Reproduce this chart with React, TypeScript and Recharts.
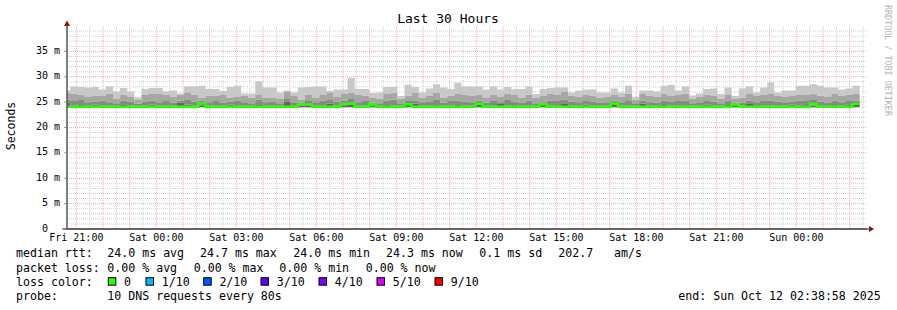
import React from "react";
import { ComposedChart, Area, Line, XAxis, YAxis, CartesianGrid } from "recharts";

// 30 hour smokeping graph, one smoke bar per 960s consolidation step
const STEP_H = 960 / 3600;
const FIRST_H = 0.124;

// top of the light smoke (max ping), ms
const HIGH = [
  27.3, 28.1, 28.0, 27.9, 28.0, 27.5, 28.1, 27.1, 27.8, 27.1,
  25.9, 27.6, 27.8, 27.8, 27.1, 27.3, 26.7, 28.1, 28.1, 28.25,
  27.6, 27.6, 27.2, 28.0, 28.25, 26.7, 26.7, 29.1, 27.9, 27.9,
  26.9, 27.3, 26.9, 27.9, 28.0, 28.1, 28.1, 27.2, 27.5, 27.5,
  29.8, 27.6, 27.6, 26.8, 26.9, 28.0, 28.0, 26.2, 28.4, 28.0,
  26.9, 27.7, 28.5, 27.9, 27.6, 28.8, 28.1, 28.1, 28.1, 27.5,
  28.1, 27.5, 28.0, 27.6, 27.6, 28.1, 26.6, 27.6, 27.8, 27.9,
  27.9, 26.9, 27.3, 27.5, 27.5, 26.9, 26.9, 27.7, 26.9, 28.25,
  26.0, 27.3, 27.3, 27.1, 28.25, 28.4, 27.3, 28.1, 26.3, 26.7,
  27.6, 27.7, 26.6, 27.9, 26.2, 27.7, 28.1, 26.9, 27.9, 28.9,
  26.9, 27.3, 27.3, 28.25, 28.25, 28.5, 28.25, 27.9, 27.9, 27.5,
  27.7, 28.25,
];

// top of the medium grey smoke
const MID = [
  26.8, 26.7, 26.5, 26.1, 26.3, 26.2, 26.6, 25.6, 26.5, 26.1,
  25.4, 26.5, 26.6, 26.6, 26.5, 26.0, 26.5, 26.8, 26.5, 25.8,
  26.3, 26.3, 26.4, 25.8, 26.0, 26.3, 25.8, 26.4, 25.8, 25.8,
  25.6, 27.0, 26.2, 25.5, 26.4, 25.8, 26.4, 26.8, 26.0, 26.6,
  26.9, 26.4, 26.3, 25.9, 25.7, 26.6, 26.9, 25.7, 26.2, 26.8,
  25.9, 26.2, 26.9, 25.8, 26.3, 26.6, 26.5, 26.2, 26.4, 25.9,
  26.5, 26.1, 26.6, 26.4, 25.9, 26.5, 25.8, 26.2, 26.6, 26.4,
  27.0, 26.3, 26.0, 26.4, 26.2, 25.9, 26.1, 26.4, 26.0, 26.7,
  25.5, 26.6, 26.2, 26.0, 26.7, 26.2, 26.4, 26.6, 25.7, 26.0,
  26.5, 26.3, 25.7, 26.4, 25.6, 25.9, 26.6, 26.2, 26.5, 26.6,
  26.3, 26.1, 26.2, 26.4, 26.5, 26.7, 26.3, 26.0, 26.6, 26.2,
  26.5, 26.6,
];

// top of the dark grey smoke
const DARK = [
  25.5, 25.2, 25.4, 25.0, 25.1, 25.3, 25.0, 24.8, 25.3, 25.1,
  24.7, 25.1, 25.3, 25.0, 25.2, 24.9, 25.3, 25.4, 25.1, 25.3,
  25.0, 25.2, 24.9, 25.1, 25.3, 25.0, 24.8, 25.5, 25.0, 25.1,
  24.8, 25.6, 25.0, 24.9, 25.2, 25.0, 25.3, 25.4, 25.1, 25.3,
  25.6, 25.0, 25.2, 24.9, 24.8, 25.3, 25.5, 24.8, 25.2, 25.3,
  25.0, 25.1, 25.4, 24.9, 25.2, 25.3, 25.1, 25.0, 25.3, 24.9,
  25.2, 25.0, 25.4, 25.1, 24.9, 25.3, 24.8, 25.0, 25.3, 25.2,
  25.5, 25.1, 25.0, 25.2, 25.1, 24.9, 25.0, 25.3, 25.0, 25.2,
  24.8, 25.3, 25.0, 24.9, 25.3, 25.1, 25.2, 25.3, 24.8, 25.0,
  25.2, 25.1, 24.8, 25.3, 24.9, 24.9, 25.3, 25.0, 25.2, 25.3,
  25.1, 25.0, 25.1, 25.3, 25.2, 25.4, 25.1, 24.9, 25.3, 25.0,
  25.2, 25.3,
];

// top of the darkest core
const CORE = [
  24.9, 24.3, 24.6, 24.3, 24.5, 24.3, 24.3, 24.3, 24.6, 24.3,
  24.3, 24.3, 24.5, 24.3, 24.3, 24.3, 24.9, 24.5, 24.3, 24.4,
  24.3, 24.3, 24.3, 24.5, 24.3, 24.3, 24.3, 24.6, 24.3, 24.3,
  24.3, 25.1, 24.3, 24.3, 24.6, 24.3, 24.3, 24.7, 24.3, 24.4,
  24.9, 24.3, 24.3, 24.3, 24.3, 24.6, 24.3, 24.3, 24.5, 24.7,
  24.3, 24.3, 24.4, 24.3, 24.3, 24.6, 24.3, 24.3, 24.5, 24.3,
  24.3, 24.8, 24.3, 24.4, 24.3, 24.3, 24.3, 24.6, 24.3, 24.4,
  24.8, 24.3, 24.3, 24.5, 24.3, 24.3, 24.3, 24.6, 24.3, 24.3,
  24.3, 24.7, 24.3, 24.3, 24.6, 24.3, 24.3, 24.4, 24.3, 24.3,
  24.5, 24.3, 24.3, 24.6, 24.3, 24.3, 24.8, 24.4, 24.3, 24.3,
  24.3, 24.3, 24.5, 24.3, 24.6, 24.3, 24.3, 24.3, 24.4, 24.3,
  24.5, 24.7,
];

// bottom of the smoke (min ping)
const LOW = [
  23.9, 23.9, 24.0, 23.9, 23.9, 24.0, 23.9, 23.9, 23.9, 24.0,
  23.9, 23.9, 24.0, 23.9, 23.9, 23.9, 24.0, 23.9, 23.9, 24.0,
  23.9, 23.9, 23.9, 24.0, 23.9, 23.9, 24.0, 23.9, 23.9, 23.9,
  24.0, 23.9, 23.9, 24.0, 24.0, 23.9, 23.9, 24.0, 23.9, 24.0,
  24.0, 23.9, 23.9, 24.0, 23.9, 23.9, 23.9, 24.0, 24.0, 23.9,
  23.9, 24.0, 23.9, 23.9, 24.0, 23.9, 23.9, 23.9, 24.0, 23.9,
  23.9, 24.0, 23.9, 23.9, 23.9, 24.0, 23.9, 24.0, 23.9, 23.9,
  24.0, 23.9, 23.9, 23.9, 24.0, 23.9, 23.9, 24.0, 23.9, 23.9,
  24.0, 23.9, 23.9, 24.0, 23.9, 23.9, 23.9, 24.0, 23.9, 23.9,
  24.0, 23.9, 23.9, 23.9, 24.0, 23.9, 24.0, 23.9, 23.9, 23.9,
  24.0, 23.9, 23.9, 24.0, 23.9, 24.0, 23.9, 23.9, 24.0, 23.9,
  23.9, 24.0,
];

// median rtt, coloured by loss (all 0 here)
const MEDIAN = [
  24.1, 24.1, 24.1, 24.1, 24.1, 24.1, 24.1, 24.1, 24.1, 24.1,
  24.1, 24.1, 24.1, 24.1, 24.1, 24.1, 24.1, 24.1, 24.1, 24.8,
  24.1, 24.1, 24.1, 24.1, 24.1, 24.1, 24.1, 24.1, 24.1, 24.1,
  24.1, 24.1, 24.1, 24.55, 24.55, 24.1, 24.1, 24.1, 24.1, 24.7,
  24.7, 24.1, 24.1, 24.6, 24.1, 24.1, 24.1, 24.1, 24.6, 24.1,
  24.1, 24.1, 24.1, 24.1, 24.1, 24.1, 24.1, 24.1, 24.7, 24.1,
  24.1, 24.1, 24.1, 24.1, 24.1, 24.1, 24.1, 24.6, 24.1, 24.1,
  24.1, 24.1, 24.1, 24.1, 24.1, 24.1, 24.1, 24.8, 24.1, 24.1,
  24.1, 24.1, 24.1, 24.1, 24.1, 24.1, 24.1, 24.1, 24.1, 24.1,
  24.1, 24.1, 24.1, 24.1, 24.6, 24.1, 24.1, 24.1, 24.1, 24.1,
  24.1, 24.1, 24.1, 24.1, 24.1, 24.7, 24.1, 24.1, 24.1, 24.1,
  24.1, 24.7,
];

const TICK_HOURS = [0.35, 3.35, 6.35, 9.35, 12.35, 15.35, 18.35, 21.35, 24.35, 27.35];
const TICK_LABELS = [
  "Fri 21:00", "Sat 00:00", "Sat 03:00", "Sat 06:00", "Sat 09:00",
  "Sat 12:00", "Sat 15:00", "Sat 18:00", "Sat 21:00", "Sun 00:00",
];
const Y_TICKS = [0, 5, 10, 15, 20, 25, 30, 35];

const LOSS_LABELS = ["0", "1/10", "2/10", "3/10", "4/10", "5/10", "9/10"];
const LOSS_COLORS = ["#26ff00", "#00b8ff", "#0059ff", "#5e00ff", "#7e00ff", "#dd00ff", "#ff0000"];

const FONT = "'DejaVu Sans Mono', monospace";
const GREEN = "#26ff00";

const rows = HIGH.map((hi, i) => ({
  t: i === 0 ? 0 : FIRST_H + (i - 1) * STEP_H,
  base: LOW[i],
  core: CORE[i] - LOW[i],
  dark: DARK[i] - CORE[i],
  mid: MID[i] - DARK[i],
  light: hi - MID[i],
  median: MEDIAN[i],
}));
rows.push({ ...rows[rows.length - 1], t: FIRST_H + (HIGH.length - 1) * STEP_H });

// grid: red every hour / 5 ms, grey every half hour / 1 ms
const majorX: number[] = [];
const minorX: number[] = [];
for (let k = 0; k < 60; k++) (k % 2 === 0 ? majorX : minorX).push(0.35 + k * 0.5);
const majorY: number[] = [];
const minorY: number[] = [];
for (let v = 1; v < 40; v++) (v % 5 === 0 ? majorY : minorY).push(v);

const legendRows = [
  { y: 257.3, items: [[16, "median rtt:"], [107.3, "24.0 ms avg"], [200, "24.7 ms max"], [293.3, "24.0 ms min"], [386, "24.3 ms now"], [479.3, "0.1 ms sd"], [558.3, "202.7"], [614, "am/s"]] },
  { y: 271.8, items: [[16, "packet loss:"], [107.3, "0.00 % avg"], [193.7, "0.00 % max"], [279.3, "0.00 % min"], [365.7, "0.00 % now"]] },
  { y: 285.6, items: [[16, "loss color:"]] },
  { y: 300.2, items: [[16, "probe:"], [107.3, "10 DNS requests every 80s"], [678.3, "end: Sun Oct 12 02:38:58 2025"]] },
];
const lossX = [108.3, 146, 203.7, 261, 319, 377, 435];

export default function App() {
  return (
    <div style={{ position: "absolute", left: 0, top: 0, width: 897, height: 310, background: "#fff" }}>
      <ComposedChart width={897} height={310} data={rows} margin={{ top: 26, right: 30, bottom: 61, left: 7 }}>
        <XAxis
          dataKey="t"
          type="number"
          domain={[0, 30]}
          ticks={TICK_HOURS}
          tickFormatter={(v: number) => TICK_LABELS[TICK_HOURS.indexOf(v)] ?? ""}
          tickLine={false}
          tickSize={0}
          tickMargin={5}
          height={20}
          axisLine={{ stroke: "#333" }}
          tick={{ fontSize: 10, fontFamily: FONT, fill: "#000" }}
          interval={0}
        />
        <YAxis
          type="number"
          domain={[0, 40]}
          ticks={Y_TICKS}
          tickFormatter={(v: number) => (v === 0 ? "0\u00a0\u00a0" : `${v} m`)}
          width={60}
          tickSize={3}
          tickMargin={4}
          tickLine={{ stroke: "#999" }}
          axisLine={{ stroke: "#555" }}
          tick={{ fontSize: 10, fontFamily: FONT, fill: "#000", dy: -1 }}
          interval={0}
        />
        <Area dataKey="base" stackId="s" type="stepAfter" stroke="none" fill="none" isAnimationActive={false} dot={false} activeDot={false} />
        <Area dataKey="core" stackId="s" type="stepAfter" stroke="none" fill="#666666" fillOpacity={1} isAnimationActive={false} dot={false} activeDot={false} />
        <Area dataKey="dark" stackId="s" type="stepAfter" stroke="none" fill="#888888" fillOpacity={1} isAnimationActive={false} dot={false} activeDot={false} />
        <Area dataKey="mid" stackId="s" type="stepAfter" stroke="none" fill="#a6a6a6" fillOpacity={1} isAnimationActive={false} dot={false} activeDot={false} />
        <Area dataKey="light" stackId="s" type="stepAfter" stroke="none" fill="#c8c8c8" fillOpacity={1} isAnimationActive={false} dot={false} activeDot={false} />
        <Line dataKey="median" type="stepAfter" stroke={GREEN} strokeWidth={2.5} dot={false} activeDot={false} isAnimationActive={false} />
        <CartesianGrid horizontalValues={minorY} verticalValues={minorX} stroke="#cfcfcf" strokeDasharray="1 1" />
        <CartesianGrid horizontalValues={majorY} verticalValues={majorX} stroke="#f4a6a6" strokeDasharray="1 1" />
      </ComposedChart>

      <svg width={897} height={310} style={{ position: "absolute", left: 0, top: 0, pointerEvents: "none" }} fontFamily={FONT}>
        <text x={448} y={23} fontSize={13} textAnchor="middle" fill="#000">Last 30 Hours</text>
        <text transform="translate(15,126) rotate(-90)" fontSize={11.5} textAnchor="middle" fill="#000">Seconds</text>
        <text transform="translate(885,5) rotate(90)" fontSize={8.4} fill="#b4b4b4">RRDTOOL / TOBI OETIKER</text>
        <line x1={62} y1={229} x2={870} y2={229} stroke="#333" />
        <line x1={67} y1={229} x2={67} y2={25} stroke="#555" />
        <polygon points="64,26 70,26 67,20.5" fill="#8b1010" />
        <polygon points="869,226 869,232 874,229" fill="#8b1010" />
        {legendRows.map((r, ri) =>
          r.items.map(([x, s], i) => (
            <text key={`${ri}-${i}`} x={x as number} y={r.y} fontSize={11.6} fill="#000">{s as string}</text>
          ))
        )}
        {LOSS_LABELS.map((lab, i) => (
          <g key={lab}>
            <rect x={lossX[i]} y={277.7} width={7.5} height={7.5} fill={LOSS_COLORS[i]} stroke="#000" strokeWidth={1} />
            <text x={lossX[i] + 15.7} y={285.6} fontSize={11.6} fill="#000">{lab}</text>
          </g>
        ))}
      </svg>
    </div>
  );
}
